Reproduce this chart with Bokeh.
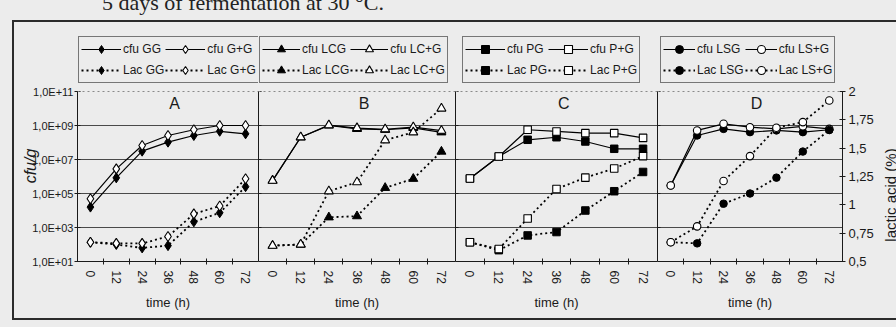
import math
import numpy as np
from bokeh.plotting import figure
from bokeh.models import (Range1d, LinearAxis, LinearScale, FixedTicker, CustomJSTickFormatter,
                          Legend, LegendItem, Label, Span, Div)
from bokeh.layouts import row, column
from bokeh.embed import file_html
from bokeh.resources import INLINE

hours = [0, 12, 24, 36, 48, 60, 72]

# cfu/g values given as log10(cfu/g); lactic acid in %
# Panel A
cfu_GG_log = [4.20, 5.92, 7.49, 8.02, 8.41, 8.66, 8.51]
cfu_GpG_log = [4.69, 6.45, 7.82, 8.41, 8.75, 9.00, 9.00]
lac_GG = [0.67, 0.65, 0.62, 0.64, 0.85, 0.93, 1.16]
lac_GpG = [0.67, 0.66, 0.66, 0.72, 0.92, 0.99, 1.23]
# Panel B
cfu_LCG_log = [5.76, 8.31, 9.00, 8.80, 8.75, 8.86, 8.60]
cfu_LCpG_log = [5.76, 8.31, 9.02, 8.85, 8.78, 8.90, 8.70]
lac_LCG = [0.64, 0.65, 0.89, 0.90, 1.15, 1.23, 1.47]
lac_LCpG = [0.64, 0.65, 1.12, 1.20, 1.57, 1.64, 1.85]
# Panel C
cfu_PG_log = [5.88, 7.18, 8.16, 8.31, 8.06, 7.63, 7.63]
cfu_PpG_log = [5.88, 7.18, 8.75, 8.65, 8.55, 8.55, 8.27]
lac_PG = [0.67, 0.60, 0.73, 0.76, 0.95, 1.12, 1.29]
lac_PpG = [0.67, 0.61, 0.88, 1.14, 1.24, 1.32, 1.43]
# Panel D
cfu_LSG_log = [5.47, 8.41, 8.80, 8.61, 8.71, 8.61, 8.75]
cfu_LSpG_log = [5.47, 8.71, 9.10, 8.90, 8.80, 8.95, 8.80]
lac_LSG = [0.67, 0.66, 1.01, 1.10, 1.24, 1.47, 1.66]
lac_LSpG = [0.67, 0.81, 1.21, 1.43, 1.68, 1.73, 1.92]

cfu_ticks = [1e1, 1e3, 1e5, 1e7, 1e9, 1e11]
grid_ticks = [1e3, 1e5, 1e7, 1e9]
lac_ticks = [0.5, 0.75, 1.0, 1.25, 1.5, 1.75, 2.0]
x_minor = [6, 18, 30, 42, 54, 66]

caption = "5 days of fermentation at 30 °C."
y_label_left = "cfu/g"
y_label_right = "lactic acid (%)"

FONT = "Liberation Sans"
BG = "#ececec"
INK = "#1a1a1a"

# frame extends above the axes (legend area): 59 px above 1e11 at 17 px/decade
CFU_TOP = 10 ** (11 + 59 / 17.0)
LAC_TOP = 2.0 + 59 * 1.5 / 170.0

panels = [
    dict(letter="A", marker="diamond", msize=10,
         labels=["cfu GG", "cfu G+G", "Lac GG", "Lac G+G"],
         data=[cfu_GG_log, cfu_GpG_log, lac_GG, lac_GpG],
         width=258, left=77, right=0, leg_x=1, gw=40),
    dict(letter="B", marker="triangle", msize=9,
         labels=["cfu LCG", "cfu LC+G", "Lac LCG", "Lac LC+G"],
         data=[cfu_LCG_log, cfu_LCpG_log, lac_LCG, lac_LCpG],
         width=197, left=0, right=0, leg_x=1, gw=38),
    dict(letter="C", marker="square", msize=7.5,
         labels=["cfu PG", "cfu P+G", "Lac PG", "Lac P+G"],
         data=[cfu_PG_log, cfu_PpG_log, lac_PG, lac_PpG],
         width=202, left=0, right=0, leg_x=7, gw=40),
    dict(letter="D", marker="circle", msize=7.5,
         labels=["cfu LSG", "cfu LS+G", "Lac LSG", "Lac LS+G"],
         data=[cfu_LSG_log, cfu_LSpG_log, lac_LSG, lac_LSpG],
         width=239, left=0, right=54, leg_x=3, gw=32),
]

figs = []
for i, cfg in enumerate(panels):
    p = figure(width=cfg["width"], height=327, x_range=Range1d(-6, 78),
               y_range=Range1d(1e1, CFU_TOP), y_axis_type="log",
               output_backend="svg", toolbar_location=None,
               min_border_left=cfg["left"], min_border_right=cfg["right"],
               min_border_top=32, min_border_bottom=66)
    p.extra_y_ranges = {"lac": Range1d(0.5, LAC_TOP)}
    p.extra_y_scales = {"lac": LinearScale()}
    p.background_fill_color = BG
    p.border_fill_alpha = 0
    p.outline_line_color = None
    p.xgrid.visible = False
    p.ygrid.ticker = FixedTicker(ticks=grid_ticks)
    p.ygrid.grid_line_color = "#4a4a4a"
    p.ygrid.grid_line_width = 1
    p.add_layout(Span(location=1e11, dimension="width", line_color="#8a8a8a",
                      line_width=1, line_dash="2 3"))

    # x axis
    xa = p.xaxis[0]
    xa.ticker = FixedTicker(ticks=hours, minor_ticks=x_minor)
    xa.major_tick_in = 0
    xa.major_tick_out = 0
    xa.minor_tick_in = 3
    xa.minor_tick_out = 3
    xa.minor_tick_line_color = INK
    xa.axis_line_color = INK
    xa.major_label_orientation = "vertical"
    xa.major_label_standoff = 6
    xa.major_label_text_font = FONT
    xa.major_label_text_font_size = "12px"
    xa.major_label_text_color = INK
    xa.axis_label = "time (h)"
    xa.axis_label_text_font = FONT
    xa.axis_label_text_font_size = "13px"
    xa.axis_label_text_font_style = "normal"
    xa.axis_label_text_color = INK
    xa.axis_label_standoff = 8

    # y axis (cfu/g)
    ya = p.yaxis[0]
    ya.ticker = FixedTicker(ticks=cfu_ticks, minor_ticks=[])
    ya.bounds = (1e1, 1e11)
    ya.axis_line_color = INK
    ya.major_tick_line_color = INK
    if i == 0:
        ya.formatter = CustomJSTickFormatter(code="""
            const e = Math.round(Math.log10(tick));
            return "1,0E+" + (e < 10 ? "0" : "") + e;
        """)
        ya.major_tick_in = 3
        ya.major_tick_out = 3
        ya.major_label_standoff = 1
        ya.major_label_text_font = FONT
        ya.major_label_text_font_size = "11px"
        ya.major_label_text_color = INK
    else:
        ya.formatter = CustomJSTickFormatter(code='return "";')
        ya.major_tick_in = 3
        ya.major_tick_out = 0
        ya.major_label_standoff = 0

    if i == 3:
        ra = LinearAxis(y_range_name="lac",
                        ticker=FixedTicker(ticks=lac_ticks, minor_ticks=[]),
                        formatter=CustomJSTickFormatter(code='return String(tick).replace(".", ",");'))
        ra.bounds = (0.5, 2.0)
        ra.axis_line_color = INK
        ra.major_tick_line_color = INK
        ra.major_tick_in = 3
        ra.major_tick_out = 3
        ra.major_label_standoff = 3
        ra.major_label_text_font = FONT
        ra.major_label_text_font_size = "13px"
        ra.major_label_text_color = INK
        p.add_layout(ra, "right")

    cfu_f, cfu_o, lac_f, lac_o = cfg["data"]
    mk = cfg["marker"]
    ms = cfg["msize"]
    cfu_f_vals = 10 ** np.array(cfu_f)
    cfu_o_vals = 10 ** np.array(cfu_o)

    l1 = p.line(hours, cfu_f_vals, line_color="black", line_width=1.2)
    m1 = p.scatter(hours, cfu_f_vals, marker=mk, size=ms, fill_color="black", line_color="black")
    l2 = p.line(hours, cfu_o_vals, line_color="black", line_width=1.2)
    m2 = p.scatter(hours, cfu_o_vals, marker=mk, size=ms, fill_color="white", line_color="black", line_width=1.1)
    l3 = p.line(hours, lac_f, y_range_name="lac", line_color="black", line_width=1.8, line_dash="2 3")
    m3 = p.scatter(hours, lac_f, y_range_name="lac", marker=mk, size=ms, fill_color="black", line_color="black")
    l4 = p.line(hours, lac_o, y_range_name="lac", line_color="black", line_width=1.8, line_dash="2 3")
    m4 = p.scatter(hours, lac_o, y_range_name="lac", marker=mk, size=ms, fill_color="white", line_color="black", line_width=1.1)

    labs = cfg["labels"]
    items = [LegendItem(label=labs[0], renderers=[l1, m1]),
             LegendItem(label=labs[2], renderers=[l3, m3]),
             LegendItem(label=labs[1], renderers=[l2, m2]),
             LegendItem(label=labs[3], renderers=[l4, m4])]
    leg = Legend(items=items, ncols=2, orientation="vertical",
                 location=(cfg["leg_x"], 178), margin=0, padding=2, spacing=1,
                 glyph_width=cfg["gw"], glyph_height=20, label_height=20,
                 label_standoff=2, label_width=30,
                 border_line_color="black", border_line_width=1,
                 background_fill_color=BG, background_fill_alpha=1.0,
                 label_text_font=FONT, label_text_font_size="12px",
                 label_text_color=INK)
    p.add_layout(leg)

    p.add_layout(Label(x=39, y=10 ** 10.3, text=cfg["letter"], text_font=FONT,
                       text_font_size="16px", text_color=INK,
                       text_align="center", text_baseline="middle"))
    figs.append(p)


def rotated_label(text, cx, cy, w, h, font_css):
    html = ('<div style="width:%dpx; height:%dpx; line-height:%dpx; text-align:center; '
            'white-space:nowrap; color:#1a1a1a; %s">%s</div>' % (w, h, h, font_css, text))
    return Div(text=html, width=w, height=h,
               styles={"position": "absolute", "left": "%dpx" % (cx - w // 2),
                       "top": "%dpx" % (cy - h // 2), "transform": "rotate(-90deg)",
                       "overflow": "visible"})


title_div = Div(
    text=('<div style="white-space:nowrap; font-family:\'Liberation Serif\', serif; '
          'font-size:22px; line-height:22px; color:#222;">' + caption + '</div>'),
    width=330, height=22,
    styles={"position": "absolute", "top": "-13px", "left": "97px", "overflow": "visible"})

left_lab = rotated_label(y_label_left, 26, 161, 60, 18,
                         "font-family:'Liberation Sans'; font-size:16px; font-style:italic;")
right_lab = rotated_label(y_label_right, 886, 190, 120, 18,
                          "font-family:'Liberation Sans'; font-size:15px;")

line_col = "#2b2b2b"
layout = column(
    row(*figs, spacing=0),
    title_div, left_lab, right_lab,
    spacing=0,
    styles={
        "position": "relative",
        "background-color": BG,
        "background-image": ", ".join(["linear-gradient(%s, %s)" % (line_col, line_col)] * 3),
        "background-size": "2px 298px, 884px 2px, 884px 2px",
        "background-position": "12px 20px, 12px 20px, 12px 318px",
        "background-repeat": "no-repeat",
    },
)
open("out.html", "w").write(file_html(layout, INLINE))
